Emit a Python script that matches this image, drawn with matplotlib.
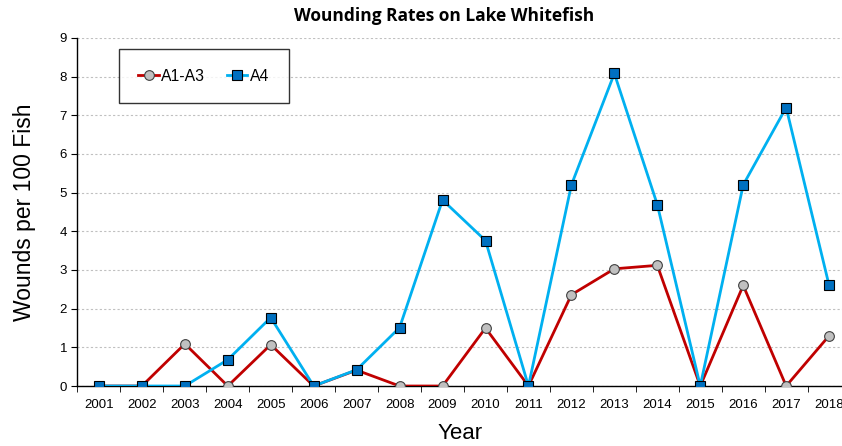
import matplotlib.pyplot as plt
import numpy as np

# -----------------------------
# Dados
# -----------------------------
years = list(range(2001, 2019))
a1_a3 = [0, 0, 1.09, 0, 1.07, 0, 0.41, 0, 0, 1.5, 0, 2.36, 3.03, 3.12, 0, 2.6, 0, 1.3]
a4 = [0, 0, 0, 0.68, 1.77, 0, 0.42, 1.51, 4.81, 3.76, 0, 5.2, 8.08, 4.69, 0, 5.2, 7.2, 2.6]
ytick_vals = list(range(0, 10))

plt.rcParams['font.family'] = ['Liberation Sans', 'DejaVu Sans']

fig = plt.figure(figsize=(8.42, 4.46), dpi=100)
ax = fig.add_axes([0.092, 0.1345, 0.908, 0.7805])

x = np.array(years)
ax.plot(x, a1_a3, '-o', color='#C00000', lw=2, marker='o', ms=7,
        mfc='#C0C0C0', mec='#404040', mew=0.8, label='A1-A3', zorder=3)
ax.plot(x, a4, '-s', color='#00B0F0', lw=2, marker='s', ms=7,
        mfc='#0070C0', mec='#000000', mew=0.8, label='A4', zorder=4)

ax.set_yticks(ytick_vals)
ax.set_xticks(years)
ax.set_xticks(np.arange(2000.5, 2018.6, 1), minor=True)
# limites depois dos ticks (set_xticks expande a vista)
ax.set_xlim(2000.5, 2018.3)
ax.set_ylim(0, 9)
ax.tick_params(axis='x', which='major', length=0, labelsize=9.5, pad=9)
ax.tick_params(axis='x', which='minor', length=4, direction='out')
ax.tick_params(axis='y', length=4, direction='out', labelsize=9.5)

ax.grid(axis='y', linestyle=(0, (2, 2)), color='#c0c0c0', lw=0.8)
ax.set_axisbelow(True)
for s in ['top', 'right']:
    ax.spines[s].set_visible(False)
ax.spines['left'].set_linewidth(1)
ax.spines['bottom'].set_linewidth(1)

ax.set_xlabel('Year', fontsize=16, labelpad=9)
ax.set_ylabel('Wounds per 100 Fish', fontsize=16.5, labelpad=17)
fig.text(0.527, 0.965, 'Wounding Rates on Lake Whitefish', ha='center', va='center',
         fontsize=12.5, fontweight='bold', family=['Open Sans', 'DejaVu Sans'])

leg = ax.legend(ncol=2, loc='upper left', bbox_to_anchor=(0.054, 0.968),
                borderaxespad=0, fontsize=11.3, frameon=True, fancybox=False,
                edgecolor='black', handlelength=1.3, columnspacing=1.4,
                borderpad=1.25, handletextpad=0.15)
leg.get_frame().set_linewidth(1)

plt.savefig('out.png', dpi=100)
